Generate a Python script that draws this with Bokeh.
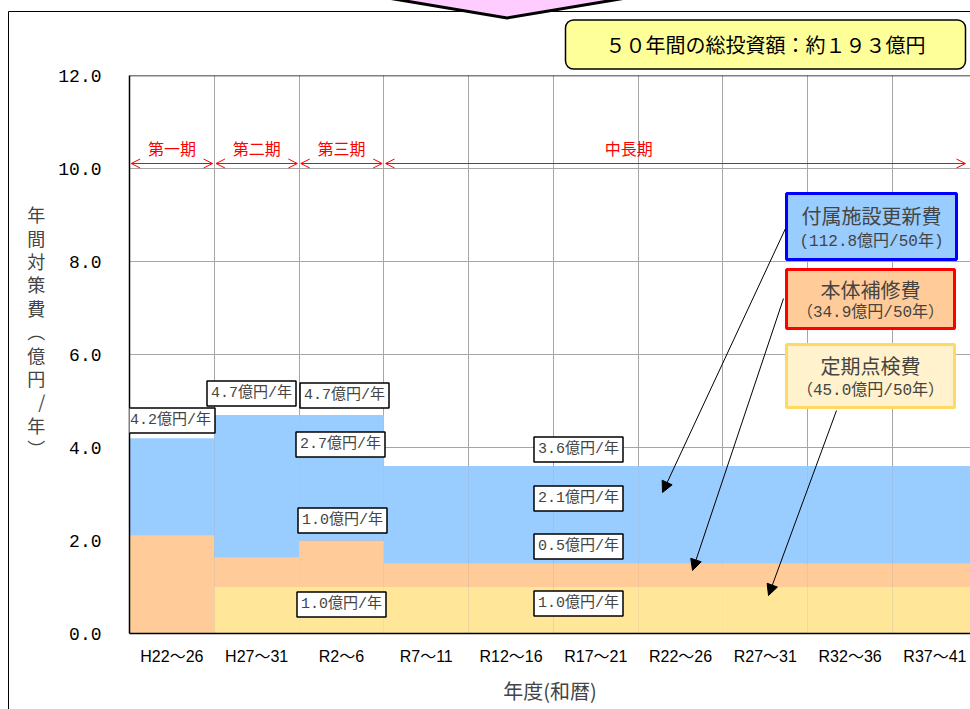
from urllib.parse import quote
from bokeh.plotting import figure
from bokeh.models import (Range1d, FixedTicker, PrintfTickFormatter, Label, BoxAnnotation,
                          Arrow, OpenHead, NormalHead, Span, ColumnDataSource)
from bokeh.embed import file_html
from bokeh.resources import INLINE

# ---------------- data ----------------
periods = ["H22～26", "H27～31", "R2～6", "R7～11", "R12～16",
           "R17～21", "R22～26", "R27～31", "R32～36", "R37～41"]
inspection = [0.0, 1.0, 1.0, 1.0, 1.0, 1.0, 1.0, 1.0, 1.0, 1.0]      # 定期点検費
repair = [2.1, 0.63, 1.0, 0.5, 0.5, 0.5, 0.5, 0.5, 0.5, 0.5]          # 本体補修費
renewal = [2.1, 3.07, 2.7, 2.1, 2.1, 2.1, 2.1, 2.1, 2.1, 2.1]         # 付属施設更新費
series_names = ["付属施設更新費", "本体補修費", "定期点検費"]
series_totals = [112.8, 34.9, 45.0]                                    # 億円/50年
phase_names = ["第一期", "第二期", "第三期", "中長期"]
phase_spans = [(0, 1), (1, 2), (2, 3), (3, 9.88)]
y_ticks = [0, 2, 4, 6, 8, 10, 12]

# ---------------- styles ----------------
C_BLUE, C_ORANGE, C_YELLOW = "#99ccff", "#ffcc99", "#ffe699"
JP = "Noto Sans CJK JP"
MONO = "Liberation Mono, Noto Sans CJK JP"
SANS = "Liberation Sans, Noto Sans CJK JP"

# pixel -> data helpers (layout only)
PX0, PXU, PY0, PYU = 129.0, 84.78, 633.0, 46.5
def dx(px):
    return (px - PX0) / PXU
def dy(py):
    return (PY0 - py) / PYU

xc = [i + 0.5 for i in range(len(periods))]
src = ColumnDataSource(dict(x=xc, inspection=inspection, repair=repair, renewal=renewal))

p = figure(width=970, height=709, x_range=Range1d(0, dx(970)), y_range=Range1d(0, 12),
           output_backend="svg", toolbar_location=None,
           min_border_left=129, min_border_right=0, min_border_top=75, min_border_bottom=76)
p.outline_line_color = None
p.background_fill_color = "white"
p.border_fill_color = None

# decorative outer frame and top chevron (page background, outside the plot frame)
deco = ("<svg xmlns='http://www.w3.org/2000/svg' width='970' height='709'>"
        "<path d='M8.5 709 V11.5 H970' fill='none' stroke='black' stroke-width='1'/>"
        "<polygon points='382,-3 507,18 632,-3 632,-20 382,-20' fill='#ffccff' "
        "stroke='black' stroke-width='3' stroke-linejoin='miter'/></svg>")
p.styles = {"background-color": "white",
            "background-image": 'url("data:image/svg+xml;charset=utf-8,%s")' % quote(deco),
            "background-repeat": "no-repeat",
            "background-position": "0 0"}

p.vbar_stack(["inspection", "repair", "renewal"], x="x", width=1.0, source=src,
             color=[C_YELLOW, C_ORANGE, C_BLUE], line_color=None)

# title box: total investment
total = round(sum(series_totals))
fw = str.maketrans("0123456789", "０１２３４５６７８９")
p.title.text = ("50年間の総投資額：約%d億円" % total).translate(fw)
p.title.align = "right"
p.title.offset = 5
p.title.standoff = 13
p.title.text_font = JP
p.title.text_font_size = "20px"
p.title.text_font_style = "normal"
p.title.text_color = "black"
p.title.background_fill_color = "#ffff99"
p.title.border_line_color = "black"
p.title.border_line_width = 1.5
p.title.border_radius = 8
p.title.padding = dict(left=40, right=40, top=10, bottom=10)

# axes
p.xaxis.ticker = FixedTicker(ticks=xc)
p.xaxis.major_label_overrides = {x: lab for x, lab in zip(xc, periods)}
p.xaxis.major_label_text_font = SANS
p.xaxis.major_label_text_font_size = "16px"
p.xaxis.major_label_text_color = "black"
p.xaxis.major_label_standoff = 14
p.xaxis.axis_label = "年度(和暦)"
p.xaxis.axis_label_text_font = JP
p.xaxis.axis_label_text_font_size = "20px"
p.xaxis.axis_label_text_font_style = "normal"
p.xaxis.axis_label_standoff = 8
for ax in (p.xaxis, p.yaxis):
    ax.axis_line_color = "black"
    ax.axis_line_width = 1.5
    ax.major_tick_in = 0
    ax.major_tick_out = 0
    ax.minor_tick_in = 0
    ax.minor_tick_out = 0

p.yaxis.ticker = FixedTicker(ticks=y_ticks)
p.yaxis.formatter = PrintfTickFormatter(format="%.1f")
p.yaxis.major_label_text_font = MONO
p.yaxis.major_label_text_font_size = "18px"
p.yaxis.major_label_text_color = "black"
p.yaxis.major_label_standoff = 28
# vertical (tategaki) axis title
p.yaxis.axis_label = "\n".join("年間対策費︵億円/年︶") + "\n\u3000\n\u3000"
p.yaxis.axis_label_orientation = "horizontal"
p.yaxis.axis_label_text_font = JP
p.yaxis.axis_label_text_font_size = "18px"
p.yaxis.axis_label_text_font_style = "normal"
p.yaxis.axis_label_text_line_height = 0.9
p.yaxis.axis_label_text_align = "center"
p.yaxis.axis_label_standoff = 10

p.xgrid.ticker = FixedTicker(ticks=list(range(11)))
p.xgrid.grid_line_color = "#a6a6a6"
p.ygrid.ticker = FixedTicker(ticks=y_ticks[1:-1])
p.ygrid.grid_line_color = "#a6a6a6"

p.add_layout(Span(location=12, dimension="width", line_color="black", line_width=1.5))

# phase arrows
for name, (a, b), lx in zip(phase_names, phase_spans, [0.5, 1.5, 2.5, 5.89]):
    p.add_layout(Arrow(x_start=a + 0.02, x_end=b - 0.02, y_start=dy(163), y_end=dy(163),
                       line_color="red", line_width=1,
                       start=OpenHead(size=9, line_color="red", line_width=1),
                       end=OpenHead(size=9, line_color="red", line_width=1)))
    p.add_layout(Label(x=lx, y=dy(147), text=name, text_color="red",
                       text_font=JP, text_font_size="16px",
                       text_align="center", text_baseline="middle"))

# value labels
def t(v):
    return "%.1f億円/年" % v
tot = [a + b + c for a, b, c in zip(inspection, repair, renewal)]
vl_text = [t(tot[0]), t(tot[1]), t(tot[2]), t(renewal[2]), t(repair[2]), t(inspection[2]),
           t(tot[3]), t(renewal[3]), t(repair[3]), t(inspection[3])]
vl_x = [dx(170), dx(251), dx(344), dx(340), dx(342), dx(341), dx(578), dx(578), dx(578), dx(578)]
vl_y = [dy(420), dy(393), dy(395), dy(444), dy(520), dy(604), dy(449), dy(498), dy(546), dy(603)]
for txt, x, y in zip(vl_text, vl_x, vl_y):
    p.add_layout(Label(x=x, y=y, text=txt, text_font=MONO, text_font_size="15px",
                       text_align="center", text_baseline="middle",
                       background_fill_color="white", border_line_color="black",
                       border_line_width=1.5, padding=4))

# legend boxes
lg_boxes = [(786, 956, 193, 259), (786, 954, 269, 328), (786, 954, 344, 407)]
lg_fill = [C_BLUE, C_ORANGE, "#fff2cc"]
lg_line = ["#0000ff", "#ff0000", "#ffd966"]
lg_sub = ["(%.1f億円/50年)", "（%.1f億円/50年）", "（%.1f億円/50年）"]
for name, tv, (l, r, tp, bt), fc, lc, fmt in zip(series_names, series_totals, lg_boxes,
                                                 lg_fill, lg_line, lg_sub):
    p.add_layout(BoxAnnotation(left=dx(l), right=dx(r), top=dy(tp), bottom=dy(bt),
                               fill_color=fc, fill_alpha=1, line_color=lc, line_alpha=1,
                               line_width=3))
    cx = (l + r) / 2
    h = bt - tp
    p.add_layout(Label(x=dx(cx), y=dy(tp + h * 0.34), text=name, text_font=JP,
                       text_font_size="20px", text_align="center", text_baseline="middle"))
    p.add_layout(Label(x=dx(cx), y=dy(tp + h * 0.74), text=fmt % tv, text_font=MONO,
                       text_font_size="16px", text_align="center", text_baseline="middle"))

# leader arrows
leaders = [((785, 228), (662, 492)), ((783, 298), (692, 570)), ((836, 410), (768, 595))]
for (x0, y0), (x1, y1) in leaders:
    p.add_layout(Arrow(x_start=dx(x0), y_start=dy(y0), x_end=dx(x1), y_end=dy(y1),
                       line_color="black", line_width=1,
                       end=NormalHead(size=11, fill_color="black", line_color="black")))

open("out.html", "w").write(file_html(p, INLINE))
